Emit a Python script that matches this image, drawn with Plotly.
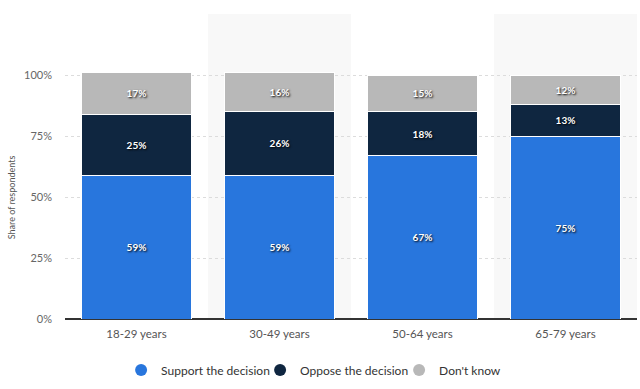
import plotly.graph_objects as go

categories = ["18-29 years", "30-49 years", "50-64 years", "65-79 years"]
support = [59, 59, 67, 75]
oppose = [25, 26, 18, 13]
dont_know = [17, 16, 15, 12]
series_names = ["Support the decision", "Oppose the decision", "Don't know"]
colors = ["#2876dd", "#0f2640", "#b8b8b8"]
tick_vals = [0, 25, 50, 75, 100, 125]
tick_text = ["0%", "25%", "50%", "75%", "100%", ""]
y_title = "Share of respondents"

FONT = "Lato, 'Open Sans', sans-serif"

fig = go.Figure()
for name, vals, col in zip(series_names, [support, oppose, dont_know], colors):
    fig.add_trace(go.Bar(
        x=categories, y=vals, name=name,
        marker=dict(color=col, line=dict(color="white", width=1)),
        text=[f"{v}%" for v in vals],
        textposition="inside", insidetextanchor="middle",
        textfont=dict(color="white", size=10, family=FONT, weight="bold",
                      shadow="1px 1px 2px #000"),
        textangle=0,
        showlegend=False,
        hoverinfo="skip",
    ))
for name, col in zip(series_names, colors):
    fig.add_trace(go.Scatter(
        x=[None], y=[None], mode="markers", name=name,
        marker=dict(symbol="circle", size=13, color=col),
        hoverinfo="skip",
    ))

# alternating column shading
for i in range(len(categories)):
    if i % 2 == 1:
        fig.add_shape(type="rect", xref="x", yref="y",
                      x0=i - 0.5, x1=i + 0.5, y0=0, y1=125,
                      fillcolor="#f8f8f8", line=dict(width=0), layer="below")

fig.add_annotation(text=y_title, textangle=-90, xref="paper", yref="y",
                   x=-0.094, y=50, xanchor="center", yanchor="middle",
                   showarrow=False, font=dict(size=9, color="#555", family=FONT))

fig.update_layout(
    barmode="stack",
    bargap=0.23,
    width=640, height=389,
    margin=dict(l=65, r=3, t=14, b=70, autoexpand=False),
    paper_bgcolor="white", plot_bgcolor="white",
    font=dict(family=FONT, color="#666", size=11),
    legend=dict(orientation="h", xref="container", x=0.515, xanchor="center",
                y=-0.12, yanchor="top",
                font=dict(size=12, color="#333"), itemsizing="constant",
                itemwidth=30, entrywidth=94, entrywidthmode="pixels",
                traceorder="normal"),
    xaxis=dict(showgrid=False, ticks="", tickfont=dict(size=11.5, color="#555"),
               showline=False, zeroline=False, fixedrange=True, automargin=False,
               ticklabelstandoff=6),
    yaxis=dict(range=[0, 125], tickvals=tick_vals, ticktext=tick_text,
               showgrid=True, gridcolor="#dcdcdc", griddash="dot", gridwidth=1,
               zeroline=True, zerolinecolor="#333", zerolinewidth=1.5,
               tickfont=dict(size=11, color="#666"), ticks="",
               ticklabelstandoff=12, automargin=False, fixedrange=True),
)

fig.write_html("out.html", config={"displayModeBar": False},
               post_script="document.body.style.margin='0';")
